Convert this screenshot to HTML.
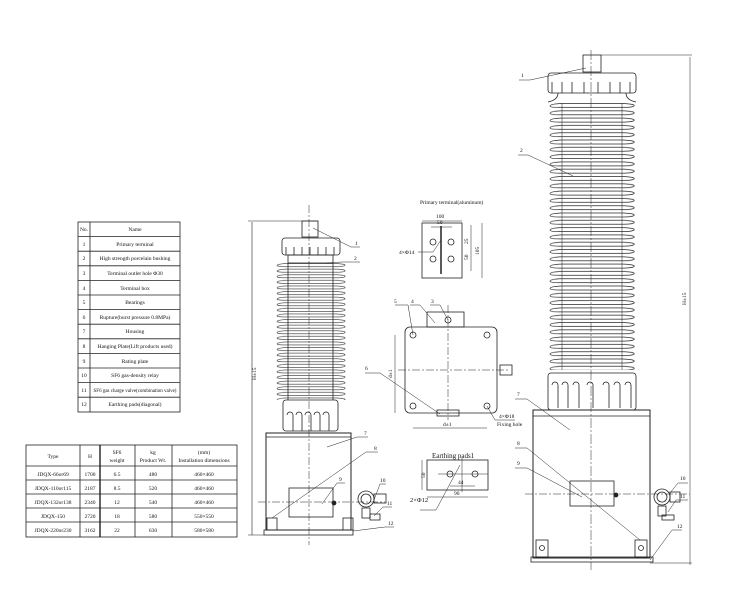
<!DOCTYPE html>
<html><head><meta charset="utf-8"><style>
html,body{margin:0;padding:0;background:#fff;}
svg{display:block;}
text{font-family:"Liberation Serif",serif;fill:#111;}
</style></head><body>
<svg width="750" height="600" viewBox="0 0 750 600" xmlns="http://www.w3.org/2000/svg">
<defs>
<pattern id="finR" x="548" y="103" width="88" height="7.3" patternUnits="userSpaceOnUse">
<path d="M14 0.5 H74 Q88 1 86 3 Q84 4.5 74 4.5 H14 Q2 4.5 2 3 Q2 1 14 0.5Z" fill="none" stroke="#222" stroke-width="0.7"/>
</pattern>
<pattern id="finL" x="276" y="263" width="70" height="5.6" patternUnits="userSpaceOnUse">
<path d="M10 0.5 H60 Q70 1 69 2.5 Q68 3.6 60 3.6 H10 Q1 3.6 1 2.5 Q1 1 10 0.5Z" fill="none" stroke="#222" stroke-width="0.6"/>
</pattern>
</defs>
<g stroke="#222" fill="none" stroke-width="0.8">
<!-- Table 1 -->
<rect x="78" y="222" width="102" height="190"/>
<line x1="90" y1="222" x2="90" y2="412"/>
<line x1="78" y1="236.6" x2="180" y2="236.6"/><line x1="78" y1="251.2" x2="180" y2="251.2"/>
<line x1="78" y1="265.8" x2="180" y2="265.8"/><line x1="78" y1="280.4" x2="180" y2="280.4"/>
<line x1="78" y1="295" x2="180" y2="295"/><line x1="78" y1="309.6" x2="180" y2="309.6"/>
<line x1="78" y1="324.2" x2="180" y2="324.2"/><line x1="78" y1="338.8" x2="180" y2="338.8"/>
<line x1="78" y1="353.4" x2="180" y2="353.4"/><line x1="78" y1="368" x2="180" y2="368"/>
<line x1="78" y1="382.6" x2="180" y2="382.6"/><line x1="78" y1="397.2" x2="180" y2="397.2"/>
<!-- Table 2 -->
<rect x="26" y="445" width="211" height="92"/>
<line x1="26" y1="466" x2="237" y2="466"/><line x1="26" y1="480" x2="237" y2="480"/>
<line x1="26" y1="494" x2="237" y2="494"/><line x1="26" y1="508" x2="237" y2="508"/>
<line x1="26" y1="522" x2="237" y2="522"/>
<line x1="80" y1="445" x2="80" y2="537"/><line x1="100" y1="445" x2="100" y2="537" stroke-width="1.4"/>
<line x1="135" y1="445" x2="135" y2="537"/><line x1="172" y1="445" x2="172" y2="537"/>
</g>
<g font-size="5.5" text-anchor="middle">
<text x="84" y="231">No.</text><text x="135" y="231">Name</text>
<text x="84" y="246">1</text><text x="135" y="246">Primary terminal</text>
<text x="84" y="260">2</text><text x="135" y="260">High strength porcelain bushing</text>
<text x="84" y="275">3</text><text x="135" y="275">Terminal outlet hole Φ30</text>
<text x="84" y="290">4</text><text x="135" y="290">Terminal box</text>
<text x="84" y="304">5</text><text x="135" y="304">Bearings</text>
<text x="84" y="319">6</text><text x="135" y="319">Rupture(burst pressure 0.8MPa)</text>
<text x="84" y="333">7</text><text x="135" y="333">Housing</text>
<text x="84" y="348">8</text><text x="135" y="348">Hanging Plate(Lift products used)</text>
<text x="84" y="363">9</text><text x="135" y="363">Rating plate</text>
<text x="84" y="377">10</text><text x="135" y="377">SF6 gas-density relay</text>
<text x="84" y="392">11</text><text x="135" y="392" font-size="5">SF6 gas charge valve(combination valve)</text>
<text x="84" y="406">12</text><text x="135" y="406">Earthing pads(diagonal)</text>
<text x="53" y="458">Type</text><text x="90" y="458">H</text>
<text x="117" y="454">SF6</text><text x="117" y="462">weight</text>
<text x="153" y="454">kg</text><text x="153" y="462">Product Wt.</text>
<text x="204" y="454">(mm)</text><text x="204" y="462">Installation dimensions</text>
<text x="53" y="476">JDQX-66or69</text><text x="90" y="476">1700</text><text x="117" y="476">6.5</text><text x="153" y="476">480</text><text x="204" y="476">460×460</text>
<text x="53" y="490">JDQX-110or115</text><text x="90" y="490">2187</text><text x="117" y="490">8.5</text><text x="153" y="490">520</text><text x="204" y="490">460×460</text>
<text x="53" y="504">JDQX-132or138</text><text x="90" y="504">2340</text><text x="117" y="504">12</text><text x="153" y="504">540</text><text x="204" y="504">460×460</text>
<text x="53" y="518">JDQX-150</text><text x="90" y="518">2720</text><text x="117" y="518">18</text><text x="153" y="518">580</text><text x="204" y="518">550×550</text>
<text x="53" y="532">JDQX-220or230</text><text x="90" y="532">3162</text><text x="117" y="532">22</text><text x="153" y="532">630</text><text x="204" y="532">580×580</text>
</g>

<!-- Left transformer -->
<g stroke="#222" fill="none" stroke-width="0.8">
<line x1="309" y1="205" x2="309" y2="545" stroke-dasharray="8,2,2,2" stroke-width="0.5"/>
<rect x="302" y="221" width="16" height="16"/>
<rect x="282" y="238" width="58" height="17" rx="3"/>
<path d="M286 247v8M294 247v8M302 247v8M310 247v8M318 247v8M326 247v8M334 247v8"/>
<rect x="288" y="255" width="45" height="8"/>
<rect x="276" y="263" width="70" height="137" fill="url(#finL)" stroke="none"/>
<line x1="288" y1="263" x2="288" y2="400"/><line x1="333" y1="263" x2="333" y2="400"/>
<rect x="283" y="400" width="55" height="31" rx="3"/>
<path d="M287 415a3 3 0 0 1 6 0v16M296 415a3 3 0 0 1 6 0v16M305 415a3 3 0 0 1 6 0v16M314 415a3 3 0 0 1 6 0v16M323 415a3 3 0 0 1 6 0v16"/>
<rect x="266" y="433" width="85" height="97" stroke-width="1"/>
<line x1="266" y1="437" x2="351" y2="437"/>
<rect x="264" y="530" width="89" height="5"/>
<rect x="289" y="488" width="44" height="29"/>
<line x1="258" y1="502" x2="385" y2="502" stroke-dasharray="8,2,2,2" stroke-width="0.5"/>
<rect x="267" y="518" width="10" height="12"/><rect x="343" y="518" width="10" height="12"/>
<circle cx="366" cy="499" r="8"/><circle cx="366" cy="499" r="5"/>
<rect x="374" y="494" width="12" height="9"/>
<rect x="362" y="508" width="8" height="10"/>
<rect x="370" y="514" width="10" height="6"/>
<circle cx="334" cy="503" r="2" fill="#222"/>
<line x1="252" y1="222" x2="252" y2="535" stroke-width="0.6"/>
<line x1="248" y1="221" x2="318" y2="221" stroke-width="0.5"/>
<line x1="248" y1="535" x2="264" y2="535" stroke-width="0.5"/>
<!-- leaders -->
<polyline points="313,228 351,247 360,247" stroke-width="0.5"/>
<polyline points="326,263 342,262 360,262" stroke-width="0.5"/>
<polyline points="327,447 357,437 368,437" stroke-width="0.5"/>
<polyline points="272,518 366,452 378,452" stroke-width="0.5"/>
<polyline points="322,504 337,483 345,483" stroke-width="0.5"/>
<polyline points="374,500 380,484 386,484" stroke-width="0.5"/>
<polyline points="374,516 383,507 392,507" stroke-width="0.5"/>
<polyline points="353,531 385,527 394,527" stroke-width="0.5"/>
</g>
<g font-size="5.5">
<text x="355" y="245">1</text><text x="354" y="260">2</text><text x="364" y="435">7</text>
<text x="374" y="450">8</text><text x="339" y="481">9</text><text x="380" y="482">10</text>
<text x="387" y="505">11</text><text x="388" y="525">12</text>
<text x="256" y="380" transform="rotate(-90 256 380)">H±15</text>
</g>

<!-- Middle details -->
<g stroke="#222" fill="none" stroke-width="0.8">
<rect x="422" y="223" width="40" height="55"/>
<line x1="441" y1="226" x2="441" y2="274" stroke-width="1.5"/>
<circle cx="433" cy="242" r="3"/><circle cx="451" cy="242" r="3"/>
<circle cx="433" cy="259" r="3"/><circle cx="451" cy="259" r="3"/>
<line x1="422" y1="221" x2="462" y2="221" stroke-width="0.5"/>
<line x1="431" y1="227" x2="452" y2="227" stroke-width="0.5"/>
<line x1="471" y1="225" x2="471" y2="271" stroke-width="0.5"/>
<line x1="482" y1="223" x2="482" y2="278" stroke-width="0.5"/>
<polyline points="418,252 433,252 441,240" stroke-width="0.5"/>
<rect x="405" y="327" width="92" height="86" rx="5"/>
<rect x="427" y="312" width="37" height="15"/>
<line x1="448" y1="305" x2="448" y2="420" stroke-dasharray="8,2,2,2" stroke-width="0.5"/>
<line x1="398" y1="370" x2="510" y2="370" stroke-dasharray="8,2,2,2" stroke-width="0.5"/>
<circle cx="413" cy="335" r="3"/><circle cx="487" cy="335" r="3"/>
<circle cx="413" cy="406" r="3"/><circle cx="487" cy="406" r="3"/>
<circle cx="448" cy="320" r="3"/>
<rect x="437" y="410" width="22" height="6"/>
<rect x="500" y="365" width="12" height="10"/>
<line x1="395" y1="335" x2="395" y2="413" stroke-width="0.5"/>
<line x1="413" y1="428" x2="487" y2="428" stroke-width="0.5"/>
<polyline points="395,305 408,305 413,335" stroke-width="0.5"/>
<polyline points="410,305 420,305 435,323" stroke-width="0.5"/>
<polyline points="430,305 440,305 448,320" stroke-width="0.5"/>
<polyline points="365,373 380,373 440,414" stroke-width="0.5"/>
<polyline points="487,406 495,420 515,420" stroke-width="0.5"/>
<rect x="427" y="460" width="61" height="30"/>
<circle cx="450" cy="474" r="3"/><circle cx="475" cy="474" r="3"/>
<line x1="438" y1="474" x2="488" y2="474" stroke-width="0.5"/>
<line x1="462" y1="458" x2="462" y2="492" stroke-width="0.5"/>
<line x1="422" y1="460" x2="422" y2="490" stroke-width="0.5"/>
<line x1="450" y1="486" x2="475" y2="486" stroke-width="0.5"/>
<line x1="427" y1="497" x2="488" y2="497" stroke-width="0.5"/>
<polyline points="420,510 436,510 460,465" stroke-width="0.5"/>
</g>
<g font-size="5.5">
<text x="420" y="204">Primary terminal(aluminum)</text>
<text x="436" y="218">100</text><text x="437" y="224">50</text>
<text x="399" y="254">4×Φ14</text>
<text x="468" y="244" transform="rotate(-90 468 244)">25</text>
<text x="468" y="260" transform="rotate(-90 468 260)">50</text>
<text x="479" y="255" transform="rotate(-90 479 255)">105</text>
<text x="394" y="303">5</text><text x="411" y="303">4</text><text x="431" y="303">3</text>
<text x="365" y="370">6</text>
<text x="392" y="378" transform="rotate(-90 392 378)">d±1</text>
<text x="443" y="426">d±1</text>
<text x="499" y="418">4×Φ18</text><text x="497" y="426">Fixing hole</text>
<text x="432" y="458" font-size="7">Earthing pads1</text>
<text x="425" y="478" transform="rotate(-90 425 478)">50</text>
<text x="458" y="484">44</text><text x="454" y="495">90</text>
<text x="410" y="502" font-size="6.5">2×Φ12</text>
</g>

<!-- Right transformer -->
<g stroke="#222" fill="none" stroke-width="0.8">
<line x1="591" y1="50" x2="591" y2="570" stroke-dasharray="10,2,2,2" stroke-width="0.5"/>
<rect x="583" y="55" width="18" height="17"/>
<rect x="548" y="73" width="88" height="20" rx="3"/>
<path d="M552 82v11M562 82v11M572 82v11M584 82v11M598 82v11M610 82v11M620 82v11M630 82v11"/>
<path d="M558 93 Q558 100 548 102 M626 93 Q626 100 636 102"/>
<rect x="548" y="103" width="88" height="267" fill="url(#finR)" stroke="none"/>
<line x1="562" y1="103" x2="562" y2="370" stroke-width="0.5"/><line x1="622" y1="103" x2="622" y2="370" stroke-width="0.5"/>
<rect x="548" y="373" width="88" height="37" rx="3"/>
<path d="M552 385a3 3 0 0 1 6 0v23M562 385a3 3 0 0 1 6 0v23M573 385a3 3 0 0 1 6 0v23M587 385a3 3 0 0 1 6 0v23M603 385a3 3 0 0 1 6 0v23M614 385a3 3 0 0 1 6 0v23M625 385a3 3 0 0 1 6 0v23"/>
<rect x="533" y="410" width="117" height="148" stroke-width="1"/>
<line x1="533" y1="416" x2="650" y2="416"/>
<rect x="531" y="557" width="122" height="5"/>
<rect x="570" y="481" width="44" height="25"/>
<line x1="525" y1="494" x2="690" y2="494" stroke-dasharray="8,2,2,2" stroke-width="0.5"/>
<rect x="536" y="540" width="12" height="17"/><rect x="635" y="540" width="12" height="17"/>
<circle cx="542" cy="548" r="2.5"/><circle cx="641" cy="548" r="2.5"/>
<circle cx="662" cy="497" r="8"/><circle cx="662" cy="497" r="5"/>
<rect x="670" y="492" width="10" height="10"/>
<rect x="658" y="506" width="8" height="10"/>
<rect x="662" y="515" width="12" height="5"/>
<circle cx="616" cy="495" r="2" fill="#222"/>
<line x1="690" y1="57" x2="690" y2="565" stroke-width="0.5"/>
<line x1="601" y1="55" x2="692" y2="55" stroke-width="0.5"/>
<line x1="650" y1="563" x2="692" y2="563" stroke-width="0.5"/>
<polyline points="519,80 530,80 586,68" stroke-width="0.5"/>
<polyline points="518,155 528,155 573,176" stroke-width="0.5"/>
<polyline points="515,399 527,399 570,430" stroke-width="0.5"/>
<polyline points="515,448 527,448 640,540" stroke-width="0.5"/>
<polyline points="515,468 527,468 582,497" stroke-width="0.5"/>
<polyline points="670,493 678,483 688,483" stroke-width="0.5"/>
<polyline points="668,512 676,500 688,500" stroke-width="0.5"/>
<polyline points="650,560 672,530 682,530" stroke-width="0.5"/>
</g>
<g font-size="5.5">
<text x="521" y="77">1</text><text x="520" y="152">2</text><text x="517" y="396">7</text>
<text x="517" y="445">8</text><text x="517" y="465">9</text><text x="680" y="480">10</text>
<text x="680" y="498">11</text><text x="677" y="528">12</text>
<text x="686" y="305" transform="rotate(-90 686 305)">H±15</text>
</g>
</svg>
</body></html>
